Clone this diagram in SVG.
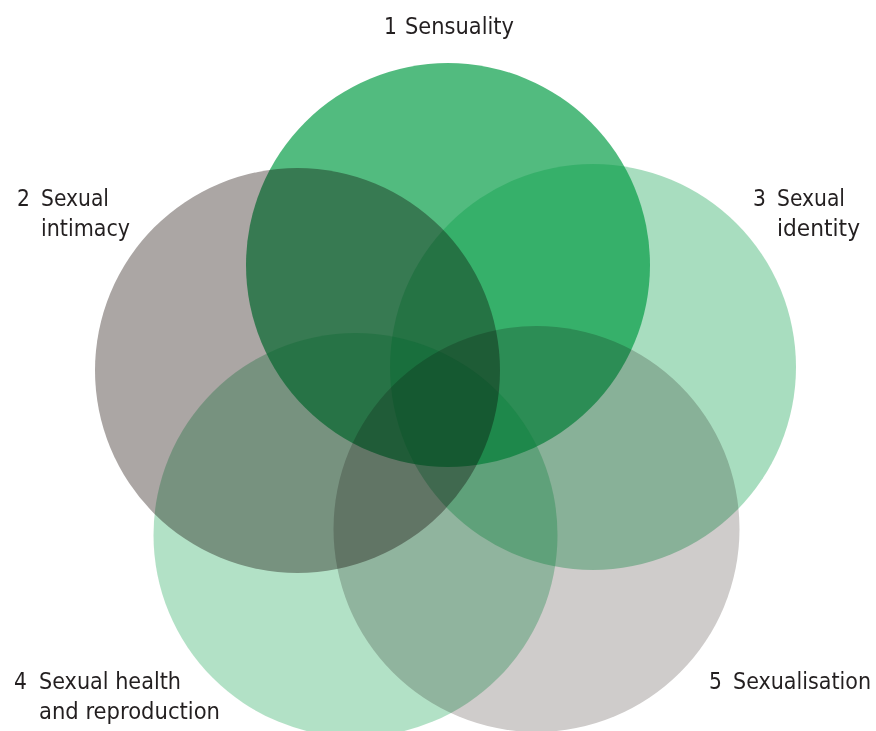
<svg xmlns="http://www.w3.org/2000/svg" width="876" height="731" viewBox="0 0 876 731">
  <style>
    .green { fill: #009B42; }
    .grey { mix-blend-mode: multiply; }
    .label { font-family: "DejaVu Sans Condensed", "DejaVu Sans", sans-serif; font-size: 22.5px; fill: #231F20; }
  </style>
  <rect x="0" y="0" width="876" height="731" fill="#FFFFFF"/>

  <!-- green dimensions -->
  <g id="node-1-sensuality">
    <circle class="green" cx="448" cy="265" r="202" fill-opacity="0.68"/>
  </g>
  <g id="node-3-identity">
    <circle class="green" cx="593" cy="367" r="203" fill-opacity="0.34"/>
  </g>
  <g id="node-4-health">
    <circle class="green" cx="355.5" cy="535" r="202" fill-opacity="0.30"/>
  </g>

  <!-- grey dimensions, multiplied over the greens -->
  <g id="node-2-intimacy">
    <circle class="grey" cx="297.5" cy="370.5" r="202.5" fill="#ABA6A4"/>
  </g>
  <g id="node-5-sexualisation">
    <circle class="grey" cx="536.5" cy="529" r="203" fill="#CFCCCB"/>
  </g>

  <g id="connectors"></g>

  <!-- labels -->
  <g id="labels">
    <text class="label" x="384" y="34">1</text>
    <text class="label" x="405" y="34" textLength="109" lengthAdjust="spacingAndGlyphs">Sensuality</text>

    <text class="label" x="17" y="206">2</text>
    <text class="label" x="41" y="206" textLength="68" lengthAdjust="spacingAndGlyphs">Sexual</text>
    <text class="label" x="41" y="236" textLength="89" lengthAdjust="spacingAndGlyphs">intimacy</text>

    <text class="label" x="753" y="206">3</text>
    <text class="label" x="777" y="206" textLength="68" lengthAdjust="spacingAndGlyphs">Sexual</text>
    <text class="label" x="777" y="236" textLength="83" lengthAdjust="spacingAndGlyphs">identity</text>

    <text class="label" x="14" y="689">4</text>
    <text class="label" x="39" y="689" textLength="142" lengthAdjust="spacingAndGlyphs">Sexual health</text>
    <text class="label" x="39" y="719" textLength="181" lengthAdjust="spacingAndGlyphs">and reproduction</text>

    <text class="label" x="709" y="689">5</text>
    <text class="label" x="733" y="689" textLength="138" lengthAdjust="spacingAndGlyphs">Sexualisation</text>
  </g>
</svg>
